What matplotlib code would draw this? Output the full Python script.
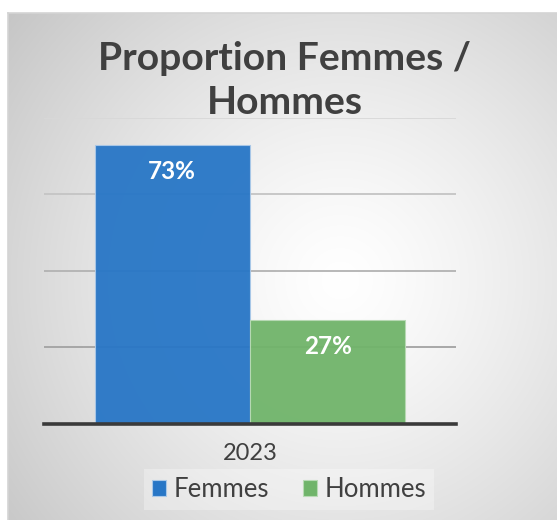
import numpy as np
import matplotlib
matplotlib.use("Agg")
import matplotlib.pyplot as plt
from matplotlib.patches import Patch

# data
categories = ["2023"]
series_names = ["Femmes", "Hommes"]
values = [0.73, 0.27]
value_labels = ["73%", "27%"]
bar_colors = ["#2776C6", "#70B46A"]
edge_colors = ["#A9C8E8", "#B8DAB4"]
grid_levels = [0.2, 0.4, 0.6, 0.8]
grid_colors = ["#A2A2A2", "#B2B2B2", "#C4C4C4", "#D8D8D8"]

W, H = 557, 520
fig = plt.figure(figsize=(W / 100, H / 100), dpi=100)

# background: white outside the chart frame, radial grey gradient inside
bg = fig.add_axes([0, 0, 1, 1])
yy, xx = np.mgrid[0:H, 0:W]
dist = np.hypot(xx - 340, yy - 280) / 420.0
shade = 1.0 - 0.22 * np.clip(dist, 0, 1.3) ** 1.3
img = np.dstack([shade, shade, shade])
img[:13, :, :] = 1.0
img[:, :8, :] = 1.0
bg.imshow(img, extent=[0, W, H, 0], aspect="auto", interpolation="bilinear")
bg.plot([8, 8], [13, H], color="#D4D4D4", lw=1.2)
bg.plot([8, W], [13, 13], color="#D4D4D4", lw=1.2)
bg.set_xlim(0, W)
bg.set_ylim(H, 0)
bg.axis("off")

ax = fig.add_axes([44 / W, (H - 423.5) / H, 412 / W, 305.5 / H])
ax.patch.set_alpha(0)

width = 0.376
x = np.arange(len(categories))
for i, (name, v) in enumerate(zip(series_names, values)):
    pos = x + (i - 0.5) * (width + 0.0024)
    bars = ax.bar(pos, [v], width, color=bar_colors[i], edgecolor=edge_colors[i],
                  linewidth=0.8, alpha=0.95, zorder=3, label=name)
    ax.annotate(value_labels[i], (pos[0], v), xytext=(0, -19), textcoords="offset points",
                ha="center", va="center", color="white", fontsize=17.5,
                fontweight="bold", family="Lato", zorder=5)

for lvl, c in zip(grid_levels, grid_colors):
    ax.axhline(lvl, color=c, lw=1.3, zorder=1)
ax.axhline(0, color="#3A3A3A", lw=2.6, zorder=4, clip_on=False)

ax.set_xlim(-0.5, 0.5)
ax.set_ylim(0, 0.8)
ax.set_yticks([])
ax.set_xticks(x)
ax.set_xticklabels(categories, fontsize=17, family="Lato", color="#404040")
ax.tick_params(axis="x", length=0, pad=14)
for s in ax.spines.values():
    s.set_visible(False)

fig.text(285 / W, 1 - 41 / H, "Proportion Femmes /\nHommes", ha="center", va="top",
         fontsize=28.2, fontweight="bold", family="Lato", color="#404040",
         linespacing=1.31)

handles = [Patch(facecolor=c, edgecolor=e, linewidth=0.8) for c, e in zip(bar_colors, edge_colors)]
leg = fig.legend(handles, series_names, loc="center", bbox_to_anchor=(289 / W, 1 - 489.5 / H),
                 ncol=2, frameon=True, fancybox=False,
                 prop={"family": "Lato", "size": 18.5},
                 handlelength=0.55, handleheight=0.55, handletextpad=0.3,
                 columnspacing=1.3, borderpad=0.3, borderaxespad=0)
leg.get_frame().set_facecolor("white")
leg.get_frame().set_alpha(0.3)
leg.get_frame().set_edgecolor("none")
for t in leg.get_texts():
    t.set_color("#404040")

fig.savefig("out.png", dpi=100)
